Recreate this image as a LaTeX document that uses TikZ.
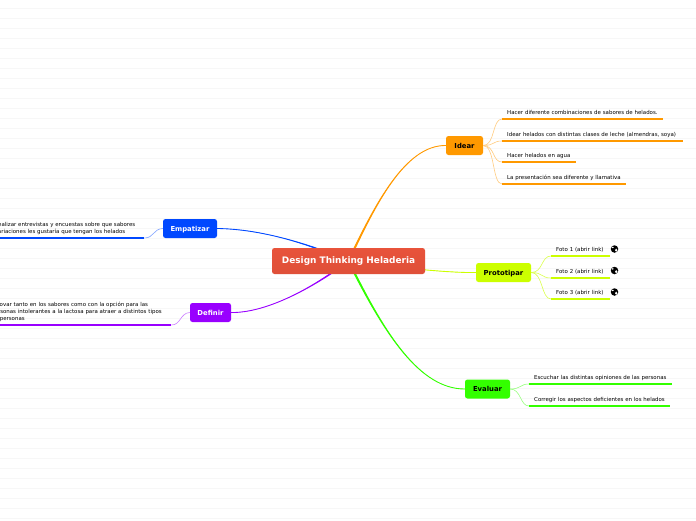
\documentclass[tikz,border=0pt]{standalone}
\usepackage{fontspec}
\setmainfont{DejaVu Sans}
\usetikzlibrary{backgrounds}
\definecolor{rootred}{HTML}{E8533B}
\definecolor{empblue}{HTML}{0048FF}
\definecolor{defpurple}{HTML}{9900FF}
\definecolor{ideaorange}{HTML}{FF9900}
\definecolor{protolime}{HTML}{CCFF00}
\definecolor{evalgreen}{HTML}{33FF00}
\begin{document}
\begin{tikzpicture}[x=1pt,y=-1pt, every node/.style={font=\fontsize{5.45}{6.8}\selectfont},
  topic/.style={rounded corners=2.5pt,minimum height=19pt,inner sep=0pt,text height=5.6pt,text depth=0pt,font=\fontsize{6.85}{8}\selectfont\bfseries},
  leaf/.style={anchor=south west,inner xsep=5pt,inner ysep=2.3pt,text width=#1-10pt,align=left,execute at end node=\strut},
  tip/.style={line width=2.1pt},
  branch/.style={line width=0.85pt},
  twig/.style={line width=0.6pt},
  globe/.style={circle,fill=black,minimum size=7.5pt,inner sep=0pt,
    path picture={\fill[white] (path picture bounding box.center)+(-1.8,-1.6) ellipse (1.1pt and 0.8pt);
      \fill[white] (path picture bounding box.center)+(1.7,1.2) ellipse (1.2pt and 1.6pt);}}]
\useasboundingbox (0,0) rectangle (696,520);
% central topic
\node[topic,top color=rootred,bottom color=rootred!96!black,text=white,minimum width=153pt,minimum height=26pt,text height=6.5pt,text depth=1.8pt,font=\fontsize{8.95}{10}\selectfont\bfseries] (root) at (348.5,261) {Design Thinking Heladeria};
% main topics
\node[topic,fill=empblue,text=white,minimum width=54pt] (empatizar) at (190,228.5) {Empatizar};
\node[topic,fill=defpurple,text=white,minimum width=41pt] (definir) at (210.5,312.5) {Definir};
\node[topic,fill=ideaorange,minimum width=37pt] (idear) at (464.5,145.5) {Idear};
\node[topic,fill=protolime,minimum width=55pt] (prototipar) at (503.5,272.5) {Prototipar};
\node[topic,fill=evalgreen,minimum width=45pt] (evaluar) at (487.5,389) {Evaluar};
% left leaves
\node[leaf=154.5pt] (emp1) at (-10.5,238) {Realizar entrevistas y encuestas sobre que sabores\\ variaciones les gustaría que tengan los helados};
\node[leaf=185pt] (def1) at (-14,325) {Innovar tanto en los sabores como con la opción para las\\ personas intolerantes a la lactosa para atraer a distintos tipos\\ de personas};
% right leaves
\node[leaf=161pt] (ide1) at (502,119) {Hacer diferente combinaciones de sabores de helados.};
\node[leaf=181pt] (ide2) at (502,141) {Idear helados con distintas clases de leche (almendras, soya)};
\node[leaf=74pt] (ide3) at (502,162) {Hacer helados en agua};
\node[leaf=124pt] (ide4) at (502,184) {La presentación sea diferente y llamativa};
\node[leaf=59pt] (pro1) at (551,256) {Foto 1 (abrir link)};
\node[leaf=59pt] (pro2) at (551,278) {Foto 2 (abrir link)};
\node[leaf=59pt] (pro3) at (551,299) {Foto 3 (abrir link)};
\node[leaf=143pt] (eva1) at (529,384) {Escuchar las distintas opiniones de las personas};
\node[leaf=141pt] (eva2) at (529,406) {Corregir los aspectos deficientes en los helados};
% link icons
\node[globe] (glo1) at (614.5,249) {};
\node[globe] (glo2) at (614.5,270.5) {};
\node[globe] (glo3) at (614.5,292) {};
% connectors, wider at the central topic
\begin{pgfonlayer}{background}
\fill[white] (0,0) rectangle (696,520);
\foreach \k in {0,...,51} \draw[black!3,line width=0.8pt] (0,{8+10*\k}) -- (696,{8+10*\k});
\filldraw[branch,empblue] (empatizar.east) .. controls (255,229) and (300,239.8) .. ([yshift=-0.8pt]root.center) -- ([yshift=0.8pt]root.center) .. controls (300,240.2) and (255,229) .. (empatizar.east);
\filldraw[branch,defpurple] (definir.east) .. controls (265,313) and (310,289.8) .. ([yshift=-0.8pt]root.center) -- ([yshift=0.8pt]root.center) .. controls (310,290.2) and (265,313) .. (definir.east);
\filldraw[branch,ideaorange] (idear.west) .. controls (405,145) and (374.8,205) .. ([xshift=-0.8pt]root.center) -- ([xshift=0.8pt]root.center) .. controls (375.2,205) and (405,145) .. (idear.west);
\filldraw[branch,protolime] (prototipar.west) .. controls (450,273) and (400,267.8) .. ([yshift=-0.6pt]root.center) -- ([yshift=0.6pt]root.center) .. controls (400,268.2) and (450,273) .. (prototipar.west);
\filldraw[branch,evalgreen] (evaluar.west) .. controls (420,389) and (384.8,335) .. ([xshift=-0.8pt]root.center) -- ([xshift=0.8pt]root.center) .. controls (385.2,335) and (420,389) .. (evaluar.west);
\end{pgfonlayer}
\draw[twig,empblue!50] (empatizar.west) .. controls (153,229) and (154,238) .. (emp1.south east);
\draw[twig,defpurple!50] (definir.west) .. controls (180,313) and (181,325) .. (def1.south east);
\foreach \a in {ide1,ide2,ide3,ide4} \draw[twig,ideaorange!50] (idear.east) .. controls +(12,0) and ([xshift=-10pt]\a.south west) .. (\a.south west);
\foreach \a in {pro1,pro2,pro3} \draw[twig,protolime!70] (prototipar.east) .. controls +(12,0) and ([xshift=-10pt]\a.south west) .. (\a.south west);
\foreach \a in {eva1,eva2} \draw[twig,evalgreen!50] (evaluar.east) .. controls +(11,0) and ([xshift=-9pt]\a.south west) .. (\a.south west);
% underlines
\draw[tip,empblue] (emp1.south west) -- (emp1.south east);
\draw[tip,defpurple] (def1.south west) -- (def1.south east);
\foreach \a in {ide1,ide2,ide3,ide4} \draw[tip,ideaorange] (\a.south west) -- (\a.south east);
\foreach \a in {pro1,pro2,pro3} \draw[tip,protolime] (\a.south west) -- (\a.south east);
\foreach \a in {eva1,eva2} \draw[tip,evalgreen] (\a.south west) -- (\a.south east);
\end{tikzpicture}
\end{document}
